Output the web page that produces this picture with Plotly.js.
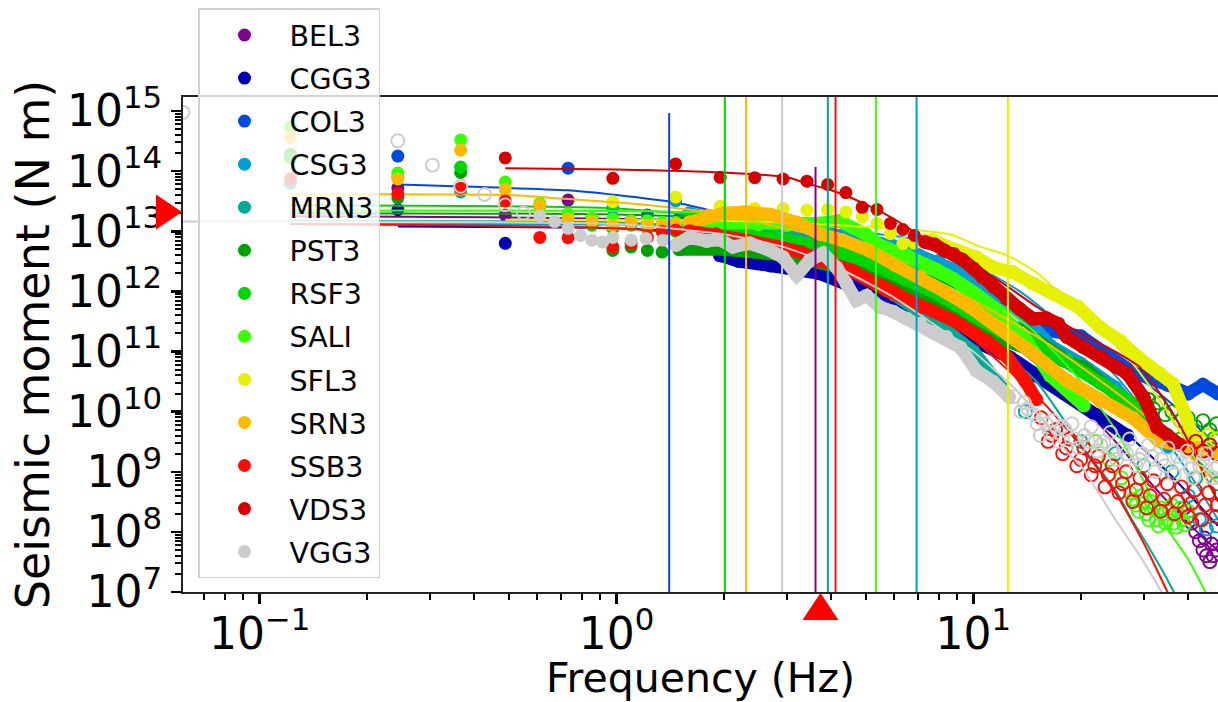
<!DOCTYPE html>
<html><head><meta charset="utf-8">
<script src="https://cdn.plot.ly/plotly-3.0.1.min.js"></script>
<style>html,body{margin:0;padding:0;background:#fff;overflow:hidden}#chart{width:1218px;height:702px}</style>
</head><body><div id="chart"></div>
<script>
// ---------- stations ----------
const stations = ['BEL3','CGG3','COL3','CSG3','MRN3','PST3','RSF3','SALI','SFL3','SRN3','SSB3','VDS3','VGG3'];
const colors   = ['#800091','#0000ae','#0049dd','#009cd5','#00aa93','#00a100','#00d500','#3aff00','#e6f100','#ffb800','#ff0c00','#d50000','#cccccc'];
// corner frequency (Hz) and upper end of its vertical marker (N m); null = none drawn
const cornerFreq = [3.613, null, 1.405, 6.935, 3.912, null, 2.012, 5.333, 12.5, 2.308, 4.111, null, 2.912];
const cornerTop  = [1.17e14, null, 9.3e14, 1e16, 1e16, null, 1e16, 1e16, 1e16, 1e16, 1e16, null, 1e16];
// event markers
const eventFreq = 3.73;      // Hz (triangle under the x axis)
const eventMoment = 2.1e13;  // N m (triangle left of the y axis)

// ---------- spectra: [frequency Hz, moment N m] ----------
const BEL3_pts  = [[0.244,5.25e13],[0.488,1.86e13],[0.732,3.3e13]];
const BEL3_band = [[2,6.3e12],[3,5.0e12],[4,2.8e12],[5,1.6e12],[6,8.9e11],[8,3.2e11],[10,1.0e11]];
const BEL3_open = [[39,2.5e8],[40,1.8e8],[41,1.4e8],[42,1.0e8],[43,7.1e7],[44,5.0e7],[44.5,7.9e7],[45,4.0e7],[46,3.2e7],[46.5,6.3e7],[47,4.0e7],[48,5.0e7]];
const BEL3_fit  = [[0.122,1.78e13],[2,1.41e13],[3.6,7.9e12],[6,2.5e12],[10,4.0e11],[15,6.3e10],[20,1.26e10],[25,3.2e9],[30,8.9e8],[35,3.2e8],[40,1.41e8],[45,7.1e7],[48.5,5.0e7]];

const CGG3_pts  = [[0.244,2.29e13],[0.488,6.3e12]];
const CGG3_band = [[1.95,4.0e12],[2.2,3.2e12],[2.7,2.7e12],[3.2,2.4e12],[3.7,2.0e12],[4.5,1.26e12],[5.5,7.1e11],[6.5,4.5e11],[8,2.8e11],[10,1.6e11],[12.7,7.9e10],[15,4.0e10],[18,2.0e10],[22,8.9e9],[27,4.0e9]];
const CGG3_open = [];
const CGG3_fit  = [[0.244,1.2e13],[1,1.12e13],[2,8.9e12],[3,5.6e12],[5,2.0e12],[8,5.0e11],[12,1.26e11],[18,2.5e10],[25,6.3e9],[35,1.0e9],[48.5,1.26e8]];

const COL3_pts  = [[0.244,1.78e14],[0.732,1.12e14],[1.221,1.86e13]];
const COL3_band = [[1.5,1.6e13],[2,1.26e13],[3,1.0e13],[4,8.9e12],[5,7.1e12],[6,5.6e12],[7,4.0e12],[8,2.8e12],[10,1.6e12],[12,7.9e11],[14,4.0e11],[16.4,2.2e11],[20,1.8e11],[23,1.0e11],[28,4.5e10],[35,2.8e10],[40,2.0e10],[44,2.8e10],[48.5,2.0e10]];
const COL3_open = [];
const COL3_fit  = [[0.244,6.0e13],[0.73,4.8e13],[1.0,4.0e13],[1.46,3.0e13],[1.9,2.1e13],[3,1.0e13],[4,6.3e12],[5,4.5e12],[7,2.2e12],[10,1.0e12],[15,3.5e11],[20,1.4e11],[30,3.2e10],[40,7.9e9],[48.5,2.5e9]];

const CSG3_pts  = [[0.977,2.4e13],[1.465,3.2e13]];
const CSG3_band = [[1.6,2.0e13],[2,1.4e13],[3,1.12e13],[4,8.9e12],[5,7.1e12],[6,5.6e12],[7,4.0e12],[8,3.2e12],[9.4,2.0e12],[11,1.0e12],[13.5,4.5e11],[16.4,1.26e11],[20,6.3e10],[25,2.5e10],[30,7.9e9],[35,2.5e9]];
const CSG3_open = [[40,4.0e8],[43,1.6e8],[45,1.12e8],[48,1.26e8]];
const CSG3_fit  = [[0.122,1.32e13],[2,1.26e13],[4,1.07e13],[7,7.1e12],[10,2.8e12],[13.5,1.0e12],[18,2.5e11],[25,4.0e10],[33,5.0e9],[40,1.0e9],[48.5,1.6e8]];

const MRN3_pts  = [[0.122,6.3e13],[0.366,4.5e13]];
const MRN3_band = [[1.5,1.26e13],[2,1.12e13],[2.5,1.12e13],[3,7.9e12],[3.5,6.3e12],[4,4.5e12],[5,2.0e12],[6,8.9e11],[7,5.0e11],[8,2.8e11],[10,1.0e11],[12,2.5e10]];
const MRN3_open = [[14,1.0e10],[17,5.0e9],[20,3.2e9],[25,2.0e9],[30,1.26e9],[36,1.0e9],[42,7.9e8],[48,6.3e8]];
const MRN3_fit  = [[0.122,1.5e13],[1,1.4e13],[2,1.12e13],[3,7.9e12],[3.9,5.0e12],[6,1.8e12],[10,2.5e11],[15,3.2e10],[20,2.8e9],[21.7,1.5e9],[25,5.0e8],[28,1.5e8],[31,5.6e7],[34.8,1.7e7],[38,6.3e6]];

const PST3_pts  = [[0.122,1.9e14],[0.244,3.6e13],[0.366,9.5e13],[0.977,4.8e12],[1.099,5.5e12],[1.221,4.8e12],[1.343,4.5e12]];
const PST3_band = [[1.5,5.0e12],[2,5.0e12],[3,4.0e12],[4,2.8e12],[5,2.0e12],[6,1.4e12],[8,7.1e11],[10,3.2e11],[12,1.6e11],[15,1.0e11],[18,7.1e10],[20.4,5.4e10],[25,2.0e10],[29,9.3e9]];
const PST3_open = [[31,1.6e10],[32,1.12e10],[33,1.4e10],[34.5,8.9e9],[36,1.0e10],[38,7.1e9],[40,7.9e9],[42,5.6e9],[44,7.1e9],[46,5.0e9],[48,6.3e9]];
const PST3_fit  = [[0.122,2.0e13],[1,1.9e13],[2,1.6e13],[4,7.9e12],[6,3.5e12],[10,7.9e11],[15,2.0e11],[20,6.3e10],[30,1.0e10],[40,2.0e9],[48.5,6.3e8]];

const RSF3_pts  = [[0.122,1.66e14],[0.244,7.9e13],[0.366,1.17e14],[0.61,2.6e13],[0.732,1.58e13],[0.854,1.26e13],[0.977,1.12e13],[1.099,1.26e13],[1.221,1.12e13],[1.343,1.0e13],[1.465,1.0e13]];
const RSF3_band = [[1.6,8.9e12],[2,8.9e12],[3,7.1e12],[4,5.0e12],[5,3.2e12],[6,2.0e12],[7,1.26e12],[8,8.9e11],[10,4.0e11],[11.9,2.2e11],[14.7,1.5e11],[18.3,7.1e10],[22.7,3.0e10],[28,1.35e10],[31,9.3e9]];
const RSF3_open = [[35,4.0e9],[38,3.5e9],[41,4.0e9],[44,3.2e9],[47,3.5e9]];
const RSF3_fit  = [[0.122,2.7e13],[1,2.4e13],[2,1.6e13],[3,8.9e12],[5,3.2e12],[8,1.0e12],[12,3.2e11],[18,7.9e10],[25,2.0e10],[35,4.0e9],[48.5,7.9e8]];

const SALI_pts  = [[0.122,5.4e14],[0.244,9.3e13],[0.366,3.3e14],[0.488,6.6e13],[0.61,2.9e13],[0.732,1.95e13],[0.854,1.66e13],[0.977,1.6e13],[1.099,1.5e13],[1.221,1.5e13],[1.343,1.4e13],[1.465,1.4e13]];
const SALI_band = [[1.6,1.4e13],[2,1.4e13],[2.5,1.3e13],[3,1.26e13],[3.7,1.35e13],[4.2,1.5e13],[5,8.9e12],[5.7,4.8e12],[6.5,4.0e12],[7.5,2.5e12],[8.8,1.6e12],[10,8.9e11],[12,4.0e11],[14,1.6e11],[16.4,4.0e10],[20.4,1.26e10]];
const SALI_open = [[22,3.2e9],[24,1.6e9],[26,7.9e8],[27.5,4.5e8],[28,3.5e8],[28.5,2.8e8],[29,2.2e8],[29.5,4.0e8],[30,3.0e8],[30.5,2.0e8],[31,1.6e8],[31.5,3.2e8],[32,2.5e8],[32.5,1.6e8],[33,1.26e8],[33.5,2.5e8],[34,2.0e8],[34.5,1.4e8],[35,1.6e8],[35.5,2.2e8],[36,2.8e8],[36.5,1.4e8],[37,1.2e8],[37.5,2.0e8],[38,2.5e8],[38.5,1.6e8],[39,1.3e8],[40,2.2e8]];
const SALI_fit  = [[0.122,2.2e13],[2,2.0e13],[4,1.26e13],[5.3,7.9e12],[8,2.8e12],[10,1.26e12],[15,2.0e11],[20,3.2e10],[25,5.0e9],[30,7.1e8],[34.3,1.35e8],[40,3.5e7],[45,9.3e6]];

const SFL3_pts  = [[0.977,3.1e13],[1.465,3.7e13],[1.953,2.6e13],[2.441,2.4e13],[2.93,2.4e13],[3.418,2.24e13],[3.906,2.3e13],[4.395,2.1e13],[4.883,1.74e13],[5.371,1.35e13],[5.859,9.1e12],[6.348,6.3e12],[6.836,6.3e12]];
const SFL3_band = [[7.3,7.1e12],[7.7,7.1e12],[9,4.8e12],[10.2,3.7e12],[11.4,2.5e12],[12.9,2.1e12],[14.7,1.35e12],[16.8,9.1e11],[19.7,5.5e11],[22.7,2.5e11],[25.8,1.5e11],[29.3,7.6e10],[33.3,4.3e10],[36.3,2.9e10],[39.6,7.9e9],[41.3,3.7e9]];
const SFL3_open = [[43,3.5e9],[45.5,4.0e9],[48,3.5e9]];
const SFL3_fit  = [[0.488,1.55e13],[2,1.5e13],[3.3,1.35e13],[6.2,1.1e13],[8.6,8.9e12],[10.4,5.6e12],[12.4,4.0e12],[15,2.1e12],[18.3,7.1e11],[22.7,2.0e11],[25,1.26e11],[28,6.3e10],[31,2.8e10],[35,1.0e10],[40,2.8e9],[45,7.1e8],[48.5,3.2e8]];

const SRN3_pts  = [[0.122,3.6e14],[0.244,7.4e13],[0.366,2.24e14],[0.488,5.0e13],[0.61,2.7e13],[0.732,1.6e13],[0.854,1.45e13],[0.977,1.26e13],[1.099,1.4e13],[1.221,1.26e13],[1.343,1.26e13],[1.465,1.32e13]];
const SRN3_band = [[1.6,1.4e13],[1.8,1.8e13],[2,2.0e13],[2.3,2.1e13],[2.7,1.9e13],[3.2,1.4e13],[3.7,9.1e12],[4.3,7.1e12],[5.1,4.8e12],[6,2.8e12],[7.1,1.74e12],[8.3,1.0e12],[9.8,5.5e11],[11.9,2.5e11],[14.7,9.3e10],[18.3,3.3e10],[22.7,1.5e10],[28,7.9e9],[33,3.3e9],[38,2.8e9],[43,2.5e9],[48.5,2.0e9]];
const SRN3_open = [];
const SRN3_fit  = [[0.122,4.1e13],[0.5,4.0e13],[0.7,3.5e13],[1.1,2.9e13],[1.5,2.4e13],[1.9,2.0e13],[2.5,1.4e13],[3.5,8.9e12],[5,4.5e12],[7,2.0e12],[10,7.1e11],[15,1.8e11],[20,5.6e10],[28,1.26e10],[38,2.5e9],[48.5,6.3e8]];

const SSB3_pts  = [[0.122,7.4e13],[0.244,4.2e13],[0.366,5.2e13],[0.488,3.2e13],[0.61,7.9e12],[0.732,7.8e12],[0.977,5.5e12],[1.099,6.3e12],[1.221,7.9e12],[1.343,1.0e13],[1.465,1.05e13]];
const SSB3_band = [[1.6,1.0e13],[1.9,8.9e12],[2.3,7.1e12],[2.8,5.6e12],[3.3,4.5e12],[3.7,3.3e12],[4.6,2.2e12],[5.7,1.05e12],[7.1,5.5e11],[8.8,3.3e11],[10.9,1.5e11],[12.5,7.9e10],[14,3.2e10],[15,1.6e10]];
const SSB3_open = [[15.5,7.9e9],[16.2,3.2e9],[16.6,4.0e9],[17,5.0e9],[17.8,2.0e9],[18.2,2.5e9],[18.6,3.5e9],[19.5,1.26e9],[20,1.6e9],[20.4,2.5e9],[21.4,8.9e8],[21.9,1.26e9],[22.4,1.8e9],[23.4,5.6e8],[23.9,8.9e8],[24.5,1.26e9],[25.6,4.5e8],[26.2,6.3e8],[26.8,1.0e9],[28,3.2e8],[28.6,5.0e8],[29.3,7.9e8],[30.6,2.5e8],[31.3,4.0e8],[32,7.1e8],[33.5,2.2e8],[34.2,3.5e8],[35,6.3e8],[36.6,2.0e8],[37.4,3.2e8],[38.3,5.6e8],[40,1.8e8],[40.9,3.0e8],[41.8,5.0e8],[43.7,1.6e8],[44.7,2.8e8],[45.7,4.5e8],[47.8,1.8e8],[48.3,2.8e8]];
const SSB3_fit  = [[0.122,1.32e13],[1,1.12e13],[2,7.9e12],[3,5.0e12],[4.1,3.2e12],[6,1.26e12],[8,4.0e11],[10,1.6e11],[13,4.0e10],[16,1.26e10],[19.5,3.2e9],[22,1.26e9],[25,4.5e8],[28,1.4e8],[31,4.5e7],[35,1.0e7],[37,5.0e6]];

const VDS3_pts  = [[0.488,1.66e14],[0.977,7.6e13],[1.465,1.32e14],[1.953,7.9e13],[2.441,7.8e13],[2.93,7.4e13],[3.418,6.8e13],[3.906,6.0e13],[4.395,4.4e13],[4.883,2.5e13],[5.371,2.3e13],[5.859,1.35e13],[6.348,1.07e13],[6.836,8.5e12]];
const VDS3_band = [[7.32,6.6e12],[7.8,6.0e12],[8.3,4.8e12],[8.8,4.2e12],[9.3,3.4e12],[10,2.4e12],[10.6,1.74e12],[11.4,1.2e12],[12.4,7.6e11],[13.5,5.1e11],[14.7,3.5e11],[16,3.6e11],[17.3,2.9e11],[18.3,1.74e11],[20.4,1.17e11],[22.7,8.5e10],[25.2,5.5e10],[27,4.3e10],[30,1.74e10],[32.7,5.5e9],[36.3,3.3e9],[38,2.8e9]];
const VDS3_open = [[40,2.5e9],[42,3.2e9],[44,2.2e9],[46,2.8e9],[48,2.0e9]];
const VDS3_fit  = [[0.488,1.12e14],[1,1.07e14],[2,9.5e13],[3,7.9e13],[3.4,6.3e13],[4,4.8e13],[5,2.8e13],[6,1.6e13],[7,8.9e12],[8,5.6e12],[10,2.8e12],[12,1.41e12],[15,5.6e11],[20,2.0e11],[25,1.0e11],[29.3,5.5e10],[33,2.2e10],[36,1.0e10],[39.6,3.7e9],[44,1.0e9],[48.5,3.2e8]];

const VGG3_lowopen = [[0.061,9.5e14],[0.183,6.6e14],[0.244,3.2e14],[0.305,1.26e14],[0.366,5.6e13],[0.427,4.1e13],[0.488,2.75e13],[0.549,2.0e13]];
const VGG3_pts  = [[0.61,1.8e13],[0.671,1.45e13],[0.732,1.12e13],[0.793,8.5e12],[0.854,7.1e12],[0.915,6.6e12],[0.977,7.9e12],[1.1,7.1e12],[1.21,7.6e12],[1.35,7.1e12]];
const VGG3_band = [[1.47,5.9e12],[1.6,7.9e12],[1.79,6.9e12],[1.95,7.2e12],[2.12,5.5e12],[2.36,6.3e12],[2.63,5.1e12],[2.93,3.7e12],[3.2,1.86e12],[3.48,3.3e12],[3.79,4.3e12],[4.14,2.5e12],[4.41,1.35e12],[4.7,7.1e11],[5.02,8.5e11],[5.47,5.5e11],[5.97,4.6e11],[6.52,3.5e11],[7.1,2.9e11],[7.74,2.1e11],[8.4,1.74e11],[9.2,1.17e11],[10.2,4.8e10],[11.4,3.1e10],[12.6,1.74e10]];
const VGG3_open = [[13.0,1.78e10],[13.6,1.0e10],[13.9,1.41e10],[14.2,1.12e10],[14.8,8.9e9],[15.1,6.3e9],[15.4,4.0e9],[16,6.3e9],[16.35,4.5e9],[16.7,7.1e9],[17.4,3.2e9],[17.75,5.6e9],[18.1,5.0e9],[18.9,6.3e9],[19.3,3.5e9],[19.7,2.5e9],[20.5,4.0e9],[20.95,3.2e9],[21.4,5.6e9],[22.3,2.2e9],[22.75,2.8e9],[23.2,3.2e9],[24.2,4.5e9],[24.7,2.2e9],[25.2,1.6e9],[26.3,2.5e9],[26.85,2.0e9],[27.4,3.5e9],[28.6,1.26e9],[29.2,1.6e9],[29.8,2.0e9],[31,2.8e9],[31.65,1.8e9],[32.3,1.0e9],[33.7,1.6e9],[34.4,1.26e9],[35.1,2.5e9],[36.6,8.9e8],[37.35,1.8e9],[38.1,1.4e9],[39.7,2.2e9],[40.55,1.12e9],[41.4,7.9e8],[43.1,1.26e9],[44,1.6e9],[44.9,2.0e9],[46.8,7.9e8],[47.6,1.12e9],[48.5,1.26e9]];
const VGG3_fit  = [[0.061,1.45e13],[1,1.32e13],[2,8.9e12],[2.9,5.6e12],[4,2.8e12],[6,7.9e11],[8,2.5e11],[10,1.0e11],[13,2.5e10],[16,6.3e9],[18.2,2.2e9],[20,1.26e9],[25.2,1.5e8],[30,3.2e7],[33.7,1.0e7],[36,5.0e6]];

const series = {
  BEL3:{pts:BEL3_pts,band:BEL3_band,open:BEL3_open,fit:BEL3_fit},
  CGG3:{pts:CGG3_pts,band:CGG3_band,open:CGG3_open,fit:CGG3_fit},
  COL3:{pts:COL3_pts,band:COL3_band,open:COL3_open,fit:COL3_fit},
  CSG3:{pts:CSG3_pts,band:CSG3_band,open:CSG3_open,fit:CSG3_fit},
  MRN3:{pts:MRN3_pts,band:MRN3_band,open:MRN3_open,fit:MRN3_fit},
  PST3:{pts:PST3_pts,band:PST3_band,open:PST3_open,fit:PST3_fit},
  RSF3:{pts:RSF3_pts,band:RSF3_band,open:RSF3_open,fit:RSF3_fit},
  SALI:{pts:SALI_pts,band:SALI_band,open:SALI_open,fit:SALI_fit},
  SFL3:{pts:SFL3_pts,band:SFL3_band,open:SFL3_open,fit:SFL3_fit},
  SRN3:{pts:SRN3_pts,band:SRN3_band,open:SRN3_open,fit:SRN3_fit},
  SSB3:{pts:SSB3_pts,band:SSB3_band,open:SSB3_open,fit:SSB3_fit},
  VDS3:{pts:VDS3_pts,band:VDS3_band,open:VDS3_open,fit:VDS3_fit},
  VGG3:{pts:VGG3_pts,lowopen:VGG3_lowopen,band:VGG3_band,open:VGG3_open,fit:VGG3_fit}
};

// ---------- traces (each station: points, band, low-SNR points, fit) ----------
const X = a => a.map(p => p[0]);
const Y = a => a.map(p => p[1]);
const MS = 13;
const traces = [], lineTraces = [];
stations.forEach((st, i) => {
  const s = series[st], c = colors[i], g = st;
  const openMarker = {color:c, size:MS, symbol:'circle-open', line:{width:1.9, color:c}};
  if (s.lowopen) traces.push({type:'scatter', mode:'markers', legendgroup:g, showlegend:false,
    x:X(s.lowopen), y:Y(s.lowopen), marker:openMarker, hoverinfo:'skip'});
  traces.push({type:'scatter', mode:'markers', name:st, legendgroup:g, showlegend:true,
    x:X(s.pts), y:Y(s.pts), marker:{color:c, size:MS, line:{width:0}}, hoverinfo:'skip'});
  if (s.band.length) traces.push({type:'scatter', mode:'lines+markers', legendgroup:g, showlegend:false,
    x:X(s.band), y:Y(s.band), line:{color:c, width:13}, marker:{color:c, size:MS+1}, hoverinfo:'skip'});
  if (s.open.length) traces.push({type:'scatter', mode:'markers', legendgroup:g, showlegend:false,
    x:X(s.open), y:Y(s.open), marker:openMarker, hoverinfo:'skip'});
  traces.push({type:'scatter', mode:'lines', legendgroup:g, showlegend:false,
    x:X(s.fit), y:Y(s.fit), line:{color:c, width:2, shape:'spline', smoothing:0.6}, hoverinfo:'skip'});
  if (cornerFreq[i] !== null) lineTraces.push({type:'scatter', mode:'lines', legendgroup:g, showlegend:false,
    x:[cornerFreq[i], cornerFreq[i]], y:[1e6, cornerTop[i]], line:{color:c, width:2}, hoverinfo:'skip'});
});

function minorVals(lo, hi){ const v=[]; for(let e=lo;e<=hi;e++) for(let d=2;d<=9;d++) v.push(d*Math.pow(10,e)); return v; }
const xTickVals = [0.1, 1, 10];
const xTickText = ['10<sup>\u22121</sup>','10<sup>0</sup>','10<sup>1</sup>'];
const yTickVals = [1e7,1e8,1e9,1e10,1e11,1e12,1e13,1e14,1e15];
const yTickText = ['7','8','9','10','11','12','13','14','15'].map(e => '10<sup>'+e+'</sup>');

const FONT = 'DejaVu Sans, Verdana, sans-serif';
const layout = {
  width:1218, height:702,
  margin:{l:183, r:0, t:97, b:110, autoexpand:false},
  paper_bgcolor:'#fff', plot_bgcolor:'#fff',
  font:{family:FONT, color:'#000'},
  showlegend:true,
  legend:{x:0.0145, y:0.0273, xanchor:'left', yanchor:'bottom', bgcolor:'rgba(255,255,255,0.8)',
    bordercolor:'#d0d0d0', borderwidth:1.5, font:{family:FONT, size:28.5, color:'#000'},
    traceorder:'grouped', tracegroupgap:3, itemwidth:80, maxheight:690},
  xaxis:{type:'log', range:[Math.log10(0.061), Math.log10(48.5)], showgrid:false, zeroline:false,
    showline:true, linecolor:'#222', linewidth:2, mirror:true,
    tickmode:'array', tickvals:xTickVals, ticktext:xTickText, ticks:'outside', ticklen:10, tickwidth:2.5, tickcolor:'#000',
    tickfont:{family:FONT, size:44, color:'#000'}, ticklabelstandoff:-8,
    minor:{tickmode:'array', tickvals:minorVals(-2,1), ticks:'outside', ticklen:6, tickwidth:2, tickcolor:'#000', showgrid:false},
    title:{text:'Frequency (Hz)', font:{family:FONT, size:41, color:'#000'}, standoff:2}, automargin:false},
  yaxis:{type:'log', range:[7, 15.2333], showgrid:false, zeroline:false,
    showline:true, linecolor:'#222', linewidth:2, mirror:false,
    tickmode:'array', tickvals:yTickVals, ticktext:yTickText, ticks:'outside', ticklen:10, tickwidth:2.5, tickcolor:'#000',
    tickfont:{family:FONT, size:44, color:'#000'},
    minor:{tickmode:'array', tickvals:minorVals(6,15), ticks:'outside', ticklen:6, tickwidth:2, tickcolor:'#000', showgrid:false},
    title:{text:'Seismic moment (N m)', font:{family:FONT, size:46, color:'#000'}, standoff:3}, automargin:false},
  shapes:[
    {type:'path', xref:'paper', xsizemode:'pixel', xanchor:0, yref:'y', ysizemode:'pixel', yanchor:eventMoment,
     path:'M -1 0 L -27 17.5 L -27 -17.5 Z', fillcolor:'#ff0000', line:{width:0}},
    {type:'path', xref:'x', xsizemode:'pixel', xanchor:eventFreq, yref:'paper', ysizemode:'pixel', yanchor:0,
     path:'M 0 -1 L -18 -28 L 18 -28 Z', fillcolor:'#ff0000', line:{width:0}}
  ]
};

Plotly.newPlot('chart', traces.concat(lineTraces), layout, {displayModeBar:false, staticPlot:true});
</script></body></html>
